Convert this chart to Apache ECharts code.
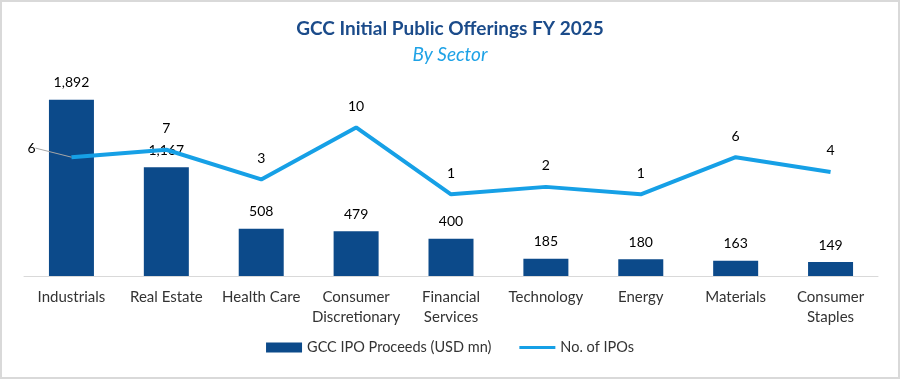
<!DOCTYPE html>
<html><head><meta charset="utf-8">
<script src="https://cdn.jsdelivr.net/npm/echarts@6/dist/echarts.min.js"></script>
<style>
html,body{margin:0;padding:0;background:#fff;}
#c{width:900px;height:379px;box-sizing:border-box;border:2px solid #d9d9d9;}
</style></head>
<body><div id="c"></div>
<script>
var categories = ['Industrials','Real Estate','Health Care','Consumer\nDiscretionary','Financial\nServices','Technology','Energy','Materials','Consumer\nStaples'];
var proceeds = [1892,1167,508,479,400,185,180,163,149];
var ipoCount = [6,7,3,10,1,2,1,6,4];
var titleText = 'GCC Initial Public Offerings FY 2025';
var subtitleText = 'By Sector';
var barName = 'GCC IPO Proceeds (USD mn)';
var lineName = 'No. of IPOs';

var font = 'Lato, "Open Sans", sans-serif';
var chart = echarts.init(document.getElementById('c'));
var lineData = ipoCount.map(function(v,i){
  if(i===0) return {value:v, labelLine:{show:true, lineStyle:{color:'#a6a6a6',width:1}}};
  return v;
});
chart.setOption({
  animation:false,
  textStyle:{fontFamily:font},
  title:[
    {text:titleText,left:'center',top:12,textStyle:{fontFamily:font,fontSize:19,fontWeight:'bold',color:'#1b4b8a'}},
    {text:subtitleText,left:'center',top:38,textStyle:{fontFamily:font,fontSize:19,fontStyle:'italic',fontWeight:'normal',color:'#1ea2e6'}}
  ],
  grid:{left:22,right:20,top:69,bottom:101},
  legend:{
    bottom:17,left:'center',itemGap:28,itemWidth:36,itemHeight:10,
    textStyle:{fontFamily:font,fontSize:14.5,color:'#333'},
    data:[{name:barName,icon:'rect'},{name:lineName,icon:'path://M0,0 M0,3.5h36v3h-36z M36,10'}]
  },
  xAxis:{
    type:'category',data:categories,
    axisLine:{lineStyle:{color:'#d9d9d9',width:1}},
    axisTick:{show:false},
    axisLabel:{fontFamily:font,fontSize:15,color:'#333',margin:11,lineHeight:20,interval:0}
  },
  yAxis:[
    {type:'value',min:0,max:2200,show:false,splitLine:{show:false}},
    {type:'value',min:-10,max:17.6,show:false,splitLine:{show:false}}
  ],
  series:[
    {name:barName,type:'bar',data:proceeds,barWidth:45,yAxisIndex:0,
     itemStyle:{color:'#0c4a8a'},
     label:{show:true,position:'top',distance:10,fontFamily:font,fontSize:14,color:'#000',
       formatter:function(p){return p.value.toLocaleString('en-US');}}},
    {name:lineName,type:'line',data:lineData,yAxisIndex:1,
     symbol:'circle',symbolSize:0.1,showSymbol:true,
     lineStyle:{color:'#16a0e6',width:4},itemStyle:{color:'#16a0e6'},
     label:{show:true,position:'top',distance:14,fontFamily:font,fontSize:14,color:'#000'},
     labelLayout:function(p){ if(p.dataIndex===0){return {dx:-40,dy:12};} return {}; },
     labelLine:{show:false}
    }
  ]
});
</script></body></html>
